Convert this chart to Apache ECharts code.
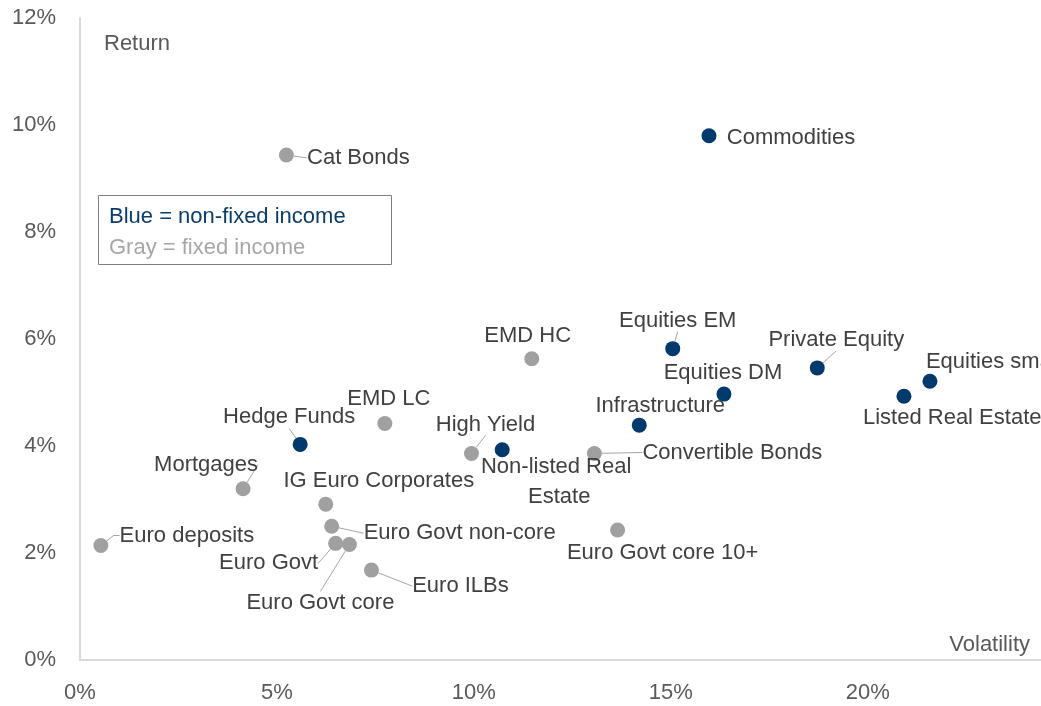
<!DOCTYPE html>
<html>
<head>
<meta charset="utf-8">
<title>Return vs volatility by asset class</title>
<script src="https://cdn.jsdelivr.net/npm/echarts@6/dist/echarts.min.js"></script>
<style>
  html, body { margin: 0; padding: 0; background: #ffffff; }
  #chart { width: 1041px; height: 706px; }
</style>
</head>
<body>
<div id="chart"></div>
<script>
// Asset classes: expected volatility (x, %) and expected return (y, %)
const assetNames = [
  'Euro deposits', 'Cat Bonds', 'Commodities', 'Hedge Funds', 'EMD LC',
  'Mortgages', 'IG Euro Corporates', 'Euro Govt non-core', 'Euro Govt',
  'Euro Govt core', 'Euro ILBs', 'High Yield', 'Non-listed Real Estate',
  'EMD HC', 'Convertible Bonds', 'Euro Govt core 10+', 'Infrastructure',
  'Equities EM', 'Equities DM', 'Private Equity', 'Listed Real Estate',
  'Equities small cap'
];
const volatility = [
  0.53, 5.24, 15.97, 5.59, 7.74,
  4.14, 6.24, 6.39, 6.49,
  6.84, 7.40, 9.94, 10.72,
  11.47, 13.06, 13.65, 14.20,
  15.05, 16.35, 18.72, 20.92,
  21.58
];
const expectedReturn = [
  2.14, 9.44, 9.80, 4.03, 4.42,
  3.20, 2.91, 2.50, 2.18,
  2.16, 1.68, 3.86, 3.93,
  5.63, 3.86, 2.43, 4.39,
  5.82, 4.97, 5.46, 4.93,
  5.21
];
// 'fixed' = fixed income (gray), 'other' = non-fixed income (blue)
const assetGroup = [
  'fixed', 'fixed', 'other', 'other', 'fixed',
  'fixed', 'fixed', 'fixed', 'fixed',
  'fixed', 'fixed', 'fixed', 'other',
  'fixed', 'fixed', 'fixed', 'other',
  'other', 'other', 'other', 'other',
  'other'
];
const legendLines = ['Blue = non-fixed income', 'Gray = fixed income'];
const xAxisTitle = 'Volatility';
const yAxisTitle = 'Return';

// Presentation: colours, fonts and label placement around each marker
const COLORS = { other: '#003a6c', fixed: '#a0a0a0' };
const TEXT = '#404040';
const AXIS_TEXT = '#595959';
const FONT = "'Liberation Sans', Arial, Helvetica, sans-serif";
const FS = 22;

// [dx, dy, align, leader line, extra]
const labelPlacement = {
  'Euro deposits':          [86, -10, 'center', true, { length2: 6 }],
  'Cat Bonds':              [72, 3, 'center', true],
  'Commodities':            [82, 2, 'center', false],
  'Hedge Funds':            [-11, -27, 'center', true],
  'EMD LC':                 [4, -25, 'center', false],
  'Mortgages':              [-37, -24, 'center', true],
  'IG Euro Corporates':     [53, -23, 'center', false],
  'Euro Govt non-core':     [128, 7, 'center', true],
  'Euro Govt':              [-67, 20, 'center', true],
  'Euro Govt core':         [-29, 58, 'center', true],
  'Euro ILBs':              [89, 16, 'center', true],
  'High Yield':             [14, -29, 'center', true],
  'Non-listed Real Estate': [57, 32, 'center', false, { wrap: 160 }],
  'EMD HC':                 [-4, -23, 'center', false],
  'Convertible Bonds':      [138, -1, 'center', true],
  'Euro Govt core 10+':     [45, 23, 'center', false],
  'Infrastructure':         [21, -19, 'center', false],
  'Equities EM':            [5, -28, 'center', true],
  'Equities DM':            [-1, -21, 'center', false],
  'Private Equity':         [19, -28, 'center', true],
  'Listed Real Estate':     [-41, 22, 'left', false],
  'Equities small cap':     [-4, -19, 'left', false]
};

const points = assetNames.map((name, i) => {
  const p = labelPlacement[name];
  const extra = p[4] || {};
  const item = {
    name: name,
    value: [volatility[i], expectedReturn[i]],
    itemStyle: { color: COLORS[assetGroup[i]], opacity: 1 },
    labelLine: {
      show: p[3],
      length2: extra.length2 || 0,
      lineStyle: { color: '#a6a6a6', width: 1, opacity: 1 }
    }
  };
  if (extra.wrap) {
    item.label = { width: extra.wrap, overflow: 'break', lineHeight: 30 };
  }
  return item;
});

const chart = echarts.init(document.getElementById('chart'), null, { renderer: 'canvas' });

chart.setOption({
  animation: false,
  backgroundColor: '#ffffff',
  grid: { left: 80, right: 0, top: 18, bottom: 46, containLabel: false },
  xAxis: {
    type: 'value',
    min: 0,
    max: 24.4,
    interval: 5,
    axisLine: { show: true, lineStyle: { color: '#d9d9d9', width: 2 } },
    axisTick: { show: false },
    splitLine: { show: false },
    axisLabel: {
      formatter: '{value}%',
      color: AXIS_TEXT,
      fontFamily: FONT,
      fontSize: FS,
      margin: 22,
      showMaxLabel: false
    }
  },
  yAxis: {
    type: 'value',
    min: 0,
    max: 12,
    interval: 2,
    axisLine: { show: true, lineStyle: { color: '#d9d9d9', width: 2 } },
    axisTick: { show: false },
    splitLine: { show: false },
    axisLabel: {
      formatter: '{value}%',
      color: AXIS_TEXT,
      fontFamily: FONT,
      fontSize: FS,
      margin: 24
    }
  },
  series: [{
    type: 'scatter',
    symbol: 'circle',
    symbolSize: 15,
    itemStyle: { opacity: 1 },
    data: points,
    label: {
      show: true,
      formatter: '{b}',
      color: TEXT,
      opacity: 1,
      fontFamily: FONT,
      fontSize: FS
    },
    labelLine: { show: false, lineStyle: { color: '#a6a6a6', width: 1 } },
    labelLayout: function (params) {
      const name = assetNames[params.dataIndex];
      const p = labelPlacement[name];
      const cx = params.rect.x + params.rect.width / 2;
      const cy = params.rect.y + params.rect.height / 2;
      return {
        x: cx + p[0],
        y: cy + p[1],
        align: p[2],
        verticalAlign: 'middle'
      };
    },
    emphasis: { disabled: true }
  }],
  graphic: [
    {
      type: 'text',
      left: 104,
      top: 33,
      style: { text: yAxisTitle, fill: AXIS_TEXT, font: FS + 'px ' + FONT }
    },
    {
      type: 'text',
      right: 11,
      top: 634,
      style: { text: xAxisTitle, fill: AXIS_TEXT, font: FS + 'px ' + FONT }
    },
    {
      type: 'rect',
      left: 98,
      top: 195,
      shape: { width: 293, height: 69 },
      style: { fill: '#ffffff', stroke: '#7f7f7f', lineWidth: 1 }
    },
    {
      type: 'text',
      left: 109,
      top: 206,
      style: { text: legendLines[0], fill: '#0b3d6b', font: FS + 'px ' + FONT }
    },
    {
      type: 'text',
      left: 109,
      top: 237,
      style: { text: legendLines[1], fill: '#a6a6a6', font: FS + 'px ' + FONT }
    }
  ]
});
</script>
</body>
</html>
